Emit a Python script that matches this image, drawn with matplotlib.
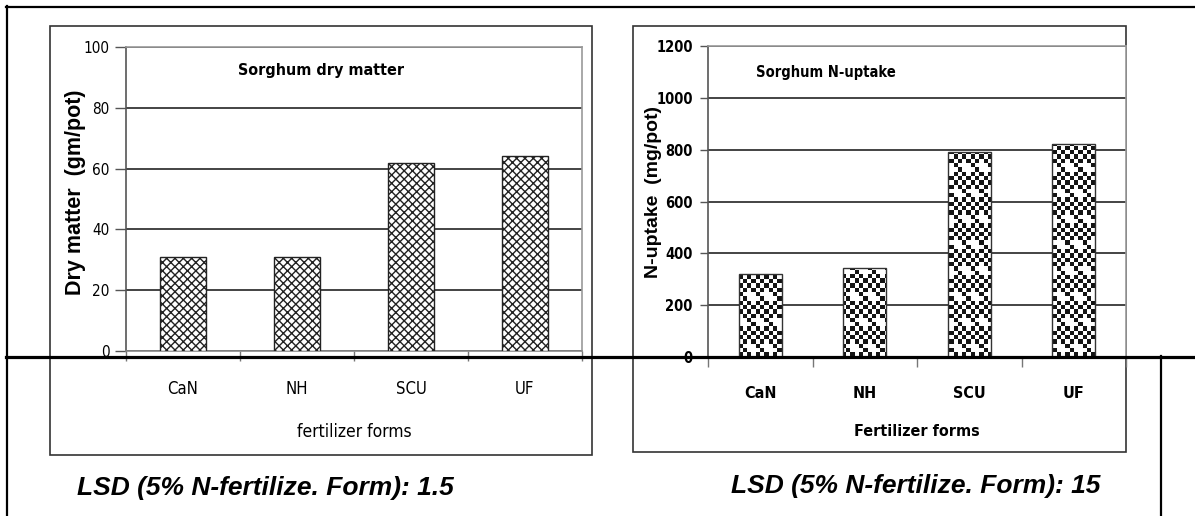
import numpy as np
import matplotlib
matplotlib.use("Agg")
import matplotlib.pyplot as plt
from matplotlib import font_manager
from matplotlib.colors import ListedColormap
from matplotlib.lines import Line2D
from matplotlib.patches import Rectangle

# fertilizer forms and the two measured responses
forms = ["CaN", "NH", "SCU", "UF"]
dry_matter = [31, 31, 62, 64]          # gm/pot
n_uptake = [320, 345, 790, 820]        # mg/pot
dm_ticks = [0, 20, 40, 60, 80, 100]
nu_ticks = [0, 200, 400, 600, 800, 1000, 1200]
lsd_dm = "1.5"
lsd_nu = "15"

W_PX, H_PX = 1195, 516

# pick a narrow face for the chart texts if one is around
fonts = font_manager.fontManager.ttflist
names = {f.name for f in fonts}
ARIAL = "Liberation Sans" if "Liberation Sans" in names else "DejaVu Sans"
if "Liberation Sans Narrow" in names:
    NARROW, STRETCH, SCALE = "Liberation Sans Narrow", "normal", 1.12
elif any(f.name == "DejaVu Sans" and f.stretch == "condensed" for f in fonts):
    NARROW, STRETCH, SCALE = "DejaVu Sans", "condensed", 1.0
else:
    NARROW, STRETCH, SCALE = ARIAL, "normal", 1.0
plt.rcParams["font.family"] = [NARROW, "DejaVu Sans"]
plt.rcParams["hatch.linewidth"] = 1.0


def nfont(size, bold=False):
    return dict(family=[NARROW], fontstretch=STRETCH, fontsize=size * SCALE,
                fontweight="bold" if bold else "normal")


def fx(px):
    return px / W_PX


def fy(py):
    return 1 - py / H_PX


def axes_at(fig, x0, y0, x1, y1):
    # pixel box (top-left origin) -> axes
    return fig.add_axes([fx(x0), fy(y1), fx(x1) - fx(x0), fy(y0) - fy(y1)])


def style_axes(ax, ymax, yticks, bold, ytick_size, xtick_size, tick_len, tick_pad):
    x = np.arange(len(forms))
    ax.set_xlim(-0.5, len(forms) - 0.5)
    ax.set_ylim(0, ymax)
    ax.set_yticks(yticks)
    ax.set_yticklabels([str(t) for t in yticks], **nfont(ytick_size, bold))
    # tick marks between categories, labels under the categories
    ax.set_xticks(np.arange(-0.5, len(forms)), minor=False)
    ax.set_xticklabels([])
    ax.set_xticks(x, minor=True)
    ax.set_xticklabels(forms, minor=True, **nfont(xtick_size, bold))
    ax.tick_params(axis="x", which="major", direction="out", length=7,
                   color="#777777", width=1)
    ax.tick_params(axis="x", which="minor", length=0, pad=21)
    ax.tick_params(axis="y", direction="out", length=tick_len, pad=tick_pad,
                   color="#555555", width=1)
    ax.set_axisbelow(True)
    ax.yaxis.grid(True, color="#111111", linewidth=1.1)
    ax.spines["left"].set_color("#555555")
    ax.spines["top"].set_color("#999999")
    ax.spines["right"].set_color("#999999")
    ax.spines["bottom"].set_color("#888888")
    for s in ax.spines.values():
        s.set_linewidth(1.2)
        s.set_zorder(2.6)


fig = plt.figure(figsize=(W_PX / 100, H_PX / 100), dpi=100)
fig.patch.set_facecolor("white")

# frames around each chart
for (x0, y0, x1, y1) in [(50, 26, 592, 455), (633, 26, 1126, 452)]:
    fig.add_artist(Rectangle((fx(x0), fy(y1)), fx(x1) - fx(x0), fy(y0) - fy(y1),
                             transform=fig.transFigure, facecolor="none",
                             edgecolor="#333333", linewidth=1.2, zorder=-1))

# ---------------- left: dry matter ----------------
ax1 = axes_at(fig, 126, 47, 582, 351)
style_axes(ax1, 100, dm_ticks, False, 11, 12, 8, 4)
ax1.bar(np.arange(len(forms)), dry_matter, width=0.40, color="white",
        edgecolor="#222222", hatch="xxxx", linewidth=1.0, zorder=3)
ax1.text(0.428, 0.924, "Sorghum dry matter", transform=ax1.transAxes,
         ha="center", va="center", **nfont(11.5, True))
ax1.set_xlabel("fertilizer forms", **nfont(12.5))
ax1.xaxis.set_label_coords(0.5, -(432 - 351) / 304)
ax1.xaxis.label.set_va("center")
ax1.set_ylabel("Dry matter  (gm/pot)", fontsize=15.5, fontweight="bold", family=[ARIAL])
ax1.yaxis.set_label_coords((75 - 126) / 456, 0.523)
ax1.yaxis.label.set_va("center")

# ---------------- right: N-uptake ----------------
ax2 = axes_at(fig, 708, 46, 1126, 357)
style_axes(ax2, 1200, nu_ticks, True, 10.5, 11.5, 6, 5)
ax2.spines["bottom"].set_color("black")
bars = ax2.bar(np.arange(len(forms)), n_uptake, width=0.41, facecolor="none",
               edgecolor="#333333", linewidth=1.0, zorder=4)

# checkerboard fill with sparse white spots, laid out in screen pixels and
# clipped to each bar
bb = ax2.get_window_extent()
tw, th = int(round(bb.width)), int(round(bb.height))
yy, xx = np.mgrid[0:th, 0:tw]
cell = 4.3
ci = (xx // cell).astype(int)
cj = (yy // cell).astype(int)
tex = ((ci + cj) % 2).astype(float)
spot = ((np.isin(ci % 4, [1, 2])) & (np.isin(cj % 12, [1, 2]))) | \
       ((np.isin(ci % 4, [3, 0])) & (np.isin(cj % 12, [7, 8])))
tex[spot] = 0
cmap = ListedColormap(["white", "#141414"])
xl, yl = ax2.get_xlim(), ax2.get_ylim()
for b in bars:
    im = ax2.imshow(tex, cmap=cmap, vmin=0, vmax=1, origin="lower",
                    extent=(xl[0], xl[1], yl[0], yl[1]), aspect="auto",
                    interpolation="nearest", zorder=3)
    im.set_clip_path(b)
ax2.set_xlim(xl)
ax2.set_ylim(yl)

ax2.text(0.115, 0.916, "Sorghum N-uptake", transform=ax2.transAxes,
         ha="left", va="center", **nfont(10.5, True))
ax2.set_xlabel("Fertilizer forms", **nfont(11.5, True))
ax2.xaxis.set_label_coords(0.5, -(432 - 357) / 311)
ax2.xaxis.label.set_va("center")
ax2.set_ylabel("N-uptake  (mg/pot)", fontsize=14, fontweight="bold", family=[ARIAL])
ax2.yaxis.set_label_coords((653 - 708) / 418, 0.53)
ax2.yaxis.label.set_va("center")

# LSD notes
fig.text(fx(77), fy(488), f"LSD (5% N-fertilize. Form): {lsd_dm}", ha="left", va="center",
         fontsize=19, fontweight="bold", fontstyle="italic", family=[ARIAL])
fig.text(fx(731), fy(486), f"LSD (5% N-fertilize. Form): {lsd_nu}", ha="left", va="center",
         fontsize=19, fontweight="bold", fontstyle="italic", family=[ARIAL])

# table rules
rules = [
    ((6, 1195), (7, 7), 1.6),
    ((7, 7), (6, 516), 1.6),
    ((6, 1195), (356.5, 356.5), 2.3),
    ((1161, 1161), (356, 516), 1.6),
]
for xs, ys, lw in rules:
    fig.add_artist(Line2D([fx(xs[0]), fx(xs[1])], [fy(ys[0]), fy(ys[1])],
                          transform=fig.transFigure, color="black", linewidth=lw,
                          zorder=10))

fig.savefig("out.png", dpi=100)
